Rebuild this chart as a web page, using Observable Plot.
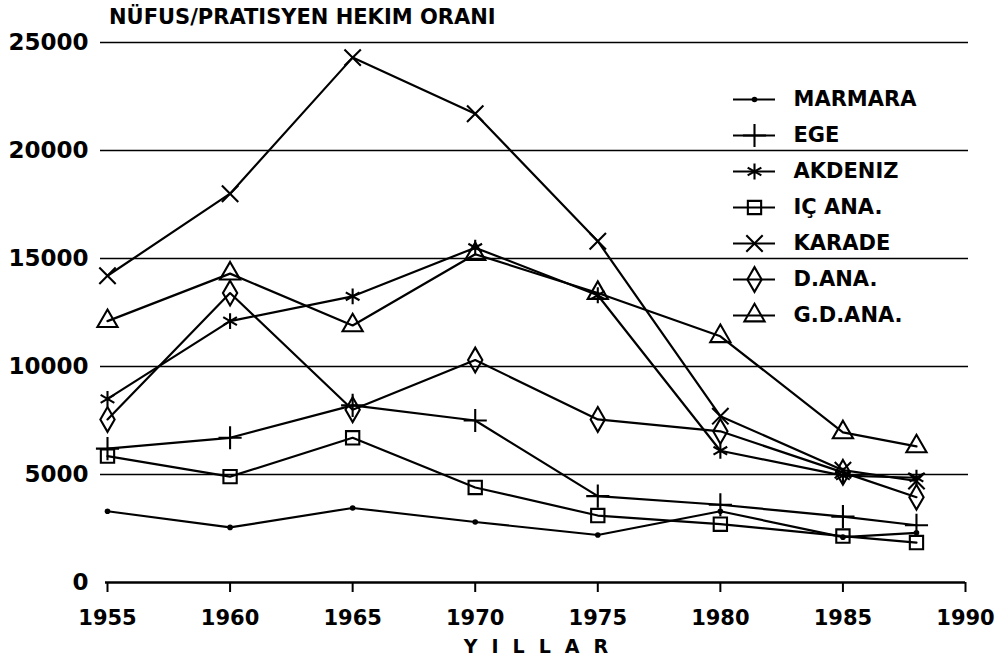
<!DOCTYPE html>
<html>
<head>
<meta charset="utf-8">
<script src="https://cdn.jsdelivr.net/npm/d3@7"></script>
<script src="https://cdn.jsdelivr.net/npm/@observablehq/plot@0.6"></script>
<style>
  html, body { margin: 0; padding: 0; background: #fff; }
  #wrap { position: relative; width: 997px; height: 666px; overflow: hidden; background: #fff; }
  #title { position: absolute; left: 109px; top: 5px; font-family: "DejaVu Sans", sans-serif; font-weight: bold; font-size: 21px; color: #000; white-space: nowrap; }
  #xlabel { position: absolute; left: 0; width: 1086px; top: 635px; text-align: center; font-family: "DejaVu Sans", sans-serif; font-weight: bold; font-size: 19px; line-height: 22px; letter-spacing: 14px; color: #000; }
  #legend { position: absolute; left: 720px; top: 78px; }
  #chart { position: absolute; left: 0; top: 0; }
</style>
</head>
<body>
<div id="wrap">
  <div id="chart"></div>
  <div id="legend"></div>
  <div id="title">NÜFUS/PRATISYEN HEKIM ORANI</div>
  <div id="xlabel">YILLAR</div>
</div>
<script>
// ---- data ----
const years = [1955, 1960, 1965, 1970, 1975, 1980, 1985, 1988];
const seriesNames = ["MARMARA", "EGE", "AKDENIZ", "IÇ ANA.", "KARADE", "D.ANA.", "G.D.ANA."];
const marmara = [3300, 2550, 3450, 2800, 2200, 3300, 2100, 2300];
const ege     = [6200, 6700, 8200, 7500, 4000, 3600, 3050, 2650];
const akdeniz = [8500, 12100, 13250, 15500, 13300, 6100, 4950, 4850];
const icAna   = [5850, 4900, 6700, 4400, 3100, 2700, 2150, 1850];
const karade  = [14200, 18000, 24300, 21700, 15800, 7700, 5200, 4700];
const dAna    = [7550, 13400, 8000, 10300, 7550, 7000, 5100, 3950];
const gdAna   = [12100, 14300, 11900, 15200, 13400, 11400, 6950, 6300];
const symbols = ["circle", "plus", "asterisk", "square", "times", "diamond", "triangle"];
const yTicks = [0, 5000, 10000, 15000, 20000, 25000];
const gridValues = [5000, 10000, 15000, 20000, 25000];
const xTicks = [1955, 1960, 1965, 1970, 1975, 1980, 1985, 1990];

const valuesBySeries = [marmara, ege, akdeniz, icAna, karade, dAna, gdAna];
const rows = [];
seriesNames.forEach((s, i) => years.forEach((yr, j) => rows.push({series: s, year: yr, value: valuesBySeries[i][j]})));

const font = "'DejaVu Sans', sans-serif";

const chart = Plot.plot({
  width: 997,
  height: 666,
  marginTop: 42,
  marginBottom: 84,
  marginLeft: 107,
  marginRight: 32,
  style: {fontFamily: font, fontWeight: "bold", fontSize: "20px", color: "#000", background: "#fff"},
  x: {domain: [1955, 1990]},
  y: {domain: [0, 25000]},
  symbol: {domain: seriesNames, range: symbols},
  marks: [
    Plot.ruleY(gridValues, {stroke: "#000", strokeWidth: 1.7, insetLeft: -7, insetRight: -3}),
    Plot.ruleY([0], {stroke: "#000", strokeWidth: 2.3, insetLeft: -2}),
    Plot.axisY({ticks: yTicks, tickSize: 0, tickPadding: 19, tickFormat: d => String(d), label: null, fontSize: 23}),
    Plot.axisX({ticks: xTicks, tickSize: 10, tickPadding: 18, tickFormat: d => String(d), label: null, strokeWidth: 2, fontSize: 21}),
    Plot.line(rows, {x: "year", y: "value", z: "series", stroke: "#000", strokeWidth: 2.2}),
    Plot.dot(rows.filter(d => d.series !== "MARMARA"), {x: "year", y: "value", symbol: "series", r: 7.5, stroke: "#000", fill: "none", strokeWidth: 2.1}),
    Plot.dot(rows.filter(d => d.series === "MARMARA"), {x: "year", y: "value", r: 2.8, fill: "#000", stroke: "none"})
  ]
});
document.getElementById("chart").appendChild(chart);

const legend = Plot.plot({
  width: 270,
  height: 260,
  margin: 0,
  style: {fontFamily: font, fontWeight: "bold", fontSize: "21px", color: "#000", background: "transparent"},
  x: {domain: [0, 1], range: [13, 55], axis: null},
  y: {type: "point", domain: seriesNames, range: [19, 238], padding: 0, axis: null},
  symbol: {domain: seriesNames, range: symbols},
  marks: [
    Plot.ruleY(seriesNames, {y: d => d, x1: 0, x2: 1, stroke: "#000", strokeWidth: 2.1}),
    Plot.dot(seriesNames.filter(d => d !== "MARMARA"), {x: 0.5, y: d => d, symbol: d => d, r: 7.5, stroke: "#000", fill: "none", strokeWidth: 2.1}),
    Plot.dot(["MARMARA"], {x: 0.5, y: d => d, r: 2.8, fill: "#000", stroke: "none"}),
    Plot.text(seriesNames, {x: 1, y: d => d, text: d => d, dx: 18, textAnchor: "start", fill: "#000", fontSize: 21})
  ]
});
document.getElementById("legend").appendChild(legend);
</script>
</body>
</html>
